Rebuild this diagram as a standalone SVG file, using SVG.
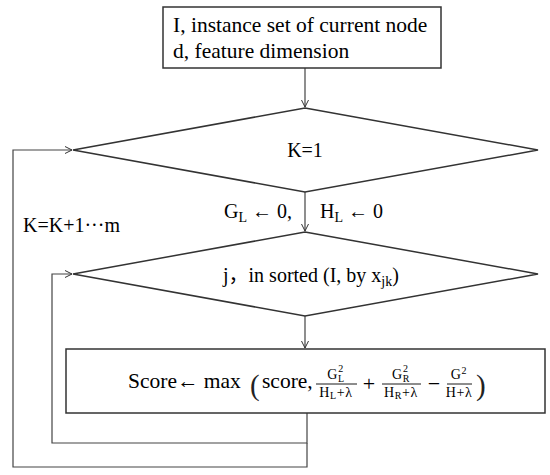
<svg xmlns="http://www.w3.org/2000/svg" width="550" height="475" viewBox="0 0 550 475">
<defs>
<marker id="arr" markerUnits="userSpaceOnUse" markerWidth="10" markerHeight="10" refX="8" refY="5" orient="auto">
<path d="M1,1.5 L8,5 L1,8.5" fill="none" stroke="#333" stroke-width="1"/>
</marker>
<style>
.shape{fill:#fff;stroke:#333;stroke-width:1.5}
.line{fill:none;stroke:#444;stroke-width:1.2}
text{font-family:"Liberation Serif","Times New Roman","Noto Sans CJK SC",serif;fill:#000}
.t21{font-size:21.5px}
.t20{font-size:20px}
.fr{font-size:14px;text-anchor:middle;letter-spacing:0.6px}
.sc{font-size:10px}
.bar{stroke:#000;stroke-width:0.9}
.par{font-size:29px;fill:#222}
</style>
</defs>
<rect width="550" height="475" fill="#fff"/>
<g id="connectors">
<line class="line" x1="305" y1="68" x2="305" y2="107" marker-end="url(#arr)"/>
<line class="line" x1="305" y1="192" x2="305" y2="231" marker-end="url(#arr)"/>
<line class="line" x1="305" y1="316" x2="305" y2="348" marker-end="url(#arr)"/>
<polyline class="line" points="307,413 307,443 52,443 52,274 72,274" marker-end="url(#arr)"/>
<polyline class="line" points="307,443 307,467 13,467 13,150 72,150" marker-end="url(#arr)"/>
</g>
<g id="input">
<rect class="shape" x="163" y="7" width="278" height="61"/>
<text class="t21" x="173" y="32">I, instance set of current node</text>
<text class="t21" x="173" y="58">d, feature dimension</text>
</g>
<g id="loopK">
<polygon class="shape" points="305,108 538,150 305,192 73,150"/>
<text class="t20" x="305" y="157" text-anchor="middle">K=1</text>
</g>
<g id="init">
<text class="t20" x="224" y="218">G<tspan font-size="14" dy="4">L</tspan><tspan dy="-4"> ← 0,</tspan></text>
<text class="t20" x="320" y="218">H<tspan font-size="14" dy="4">L</tspan><tspan dy="-4"> ← 0</tspan></text>
</g>
<g id="incK">
<text class="t20" x="23" y="232">K=K+1···m</text>
</g>
<g id="loopJ">
<polygon class="shape" points="305,232 538,274 305,316 73,274"/>
<text class="t20" x="223" y="282">j<tspan font-family="'Noto Sans CJK SC',sans-serif">，</tspan>in sorted (I, by x<tspan font-size="14" dy="4">jk</tspan><tspan dy="-4">)</tspan></text>
</g>
<g id="score">
<rect class="shape" x="66" y="349" width="479" height="64"/>
<text class="t21" x="128" y="388">Score← max</text>
<text class="par" x="250" y="395">(</text>
<text class="t21" x="262" y="388">score,</text>
<text class="fr" x="336" y="379">G<tspan class="sc" dy="3">L</tspan><tspan class="sc" dx="-6.5" dy="-10">2</tspan></text>
<line class="bar" x1="316" y1="384" x2="357" y2="384"/>
<text class="fr" x="336" y="397">H<tspan class="sc" dy="2">L</tspan><tspan dy="-2">+λ</tspan></text>
<text x="369" y="391" font-size="22" text-anchor="middle">+</text>
<text class="fr" x="401" y="379">G<tspan class="sc" dy="3">R</tspan><tspan class="sc" dx="-7" dy="-10">2</tspan></text>
<line class="bar" x1="382" y1="384" x2="421" y2="384"/>
<text class="fr" x="401" y="397">H<tspan class="sc" dy="2">R</tspan><tspan dy="-2">+λ</tspan></text>
<text x="434" y="391" font-size="22" text-anchor="middle">−</text>
<text class="fr" x="459" y="379">G<tspan class="sc" dy="-5">2</tspan></text>
<line class="bar" x1="447" y1="384" x2="472" y2="384"/>
<text class="fr" x="459" y="397">H+λ</text>
<text class="par" x="476" y="395">)</text>
</g>
</svg>
